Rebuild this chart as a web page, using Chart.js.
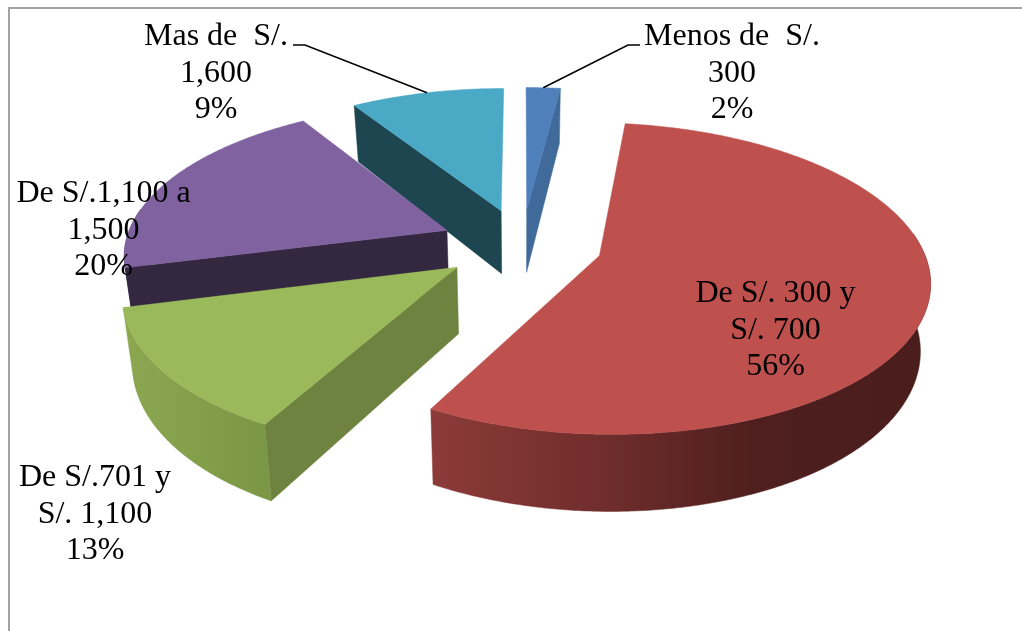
<!DOCTYPE html>
<html>
<head>
<meta charset="utf-8">
<script src="https://cdn.jsdelivr.net/npm/chart.js@4"></script>
<style>html,body{margin:0;padding:0;background:#fff}canvas{display:block}</style>
</head>
<body>
<canvas id="c" width="1022" height="631"></canvas>
<script>
const categories = ['Menos de  S/. 300', 'De S/. 300 y S/. 700', 'De S/.701 y S/. 1,100', 'De S/.1,100 a 1,500', 'Mas de  S/. 1,600'];
const values = [2, 56, 13, 20, 9];
const percentLabels = ['2%', '56%', '13%', '20%', '9%'];
const labelLines = [['Menos de  S/.', '300'], ['De S/. 300 y', 'S/. 700'], ['De S/.701 y', 'S/. 1,100'], ['De S/.1,100 a', '1,500'], ['Mas de  S/.', '1,600']];
const explode = [0.24, 0.25, 0.25, 0.254, 0.24];

const topColors = ['#4F80BC', '#BE504E', '#9AB95A', '#8062A0', '#4AA9C4'];
const flatWallColors = ['#3F6A9A', '#7a3432', '#6F8340', '#332840', '#1E4650'];
const outerWallStops = [
  [[0, '#3F6A9A'], [1, '#3F6A9A']],
  [[0, '#8C3B39'], [0.35, '#6F2D2B'], [0.65, '#4E1F1E'], [1, '#4A1D1D']],
  [[0, '#8CA750'], [1, '#7A9746']],
  [[0, '#332840'], [1, '#332840']],
  [[0, '#1E4650'], [1, '#1E4650']]
];
const paintOrder = [0, 4, 3, 2, 1];
const labelAnchors = [[732, 45], [775.5, 302], [95, 486], [103.5, 202], [216, 45]];
const leaderElbows = [[[640, 45], [628, 45]], null, null, null, [[293, 45], [305, 45]]];
const view = { cx: 522, cy: 244, sx: 322, sy: 149, persp: 0.1455, depth: 65, taper: 0.025 };

function project(u, v, z) {
  const w = 1 / (1 - view.persp * v);
  const t = 1 - view.taper * z;
  return [view.cx + u * view.sx * w * t, view.cy + (v * view.sy + z * view.depth) * w];
}
function slicePoint(arc, i, angle, r, z) {
  const mid = (arc.startAngle + arc.endAngle) / 2;
  const u = r * Math.cos(angle) + explode[i] * Math.cos(mid);
  const v = r * Math.sin(angle) + explode[i] * Math.sin(mid);
  return project(u, v, z);
}
function poly(ctx, pts, fill) {
  ctx.beginPath();
  pts.forEach((p, k) => k ? ctx.lineTo(p[0], p[1]) : ctx.moveTo(p[0], p[1]));
  ctx.closePath();
  ctx.fillStyle = fill;
  ctx.fill();
  ctx.strokeStyle = fill;
  ctx.lineWidth = 0.5;
  ctx.stroke();
}
function arcSamples(arc) {
  const n = Math.max(6, Math.ceil((arc.endAngle - arc.startAngle) * 120));
  const out = [];
  for (let k = 0; k <= n; k++) out.push(arc.startAngle + (arc.endAngle - arc.startAngle) * k / n);
  return out;
}
// a radial cut shows only when going straight down from its top edge leaves the slice
function cutVisible(arc, i, angle) {
  const a = slicePoint(arc, i, 0, 0, 0);
  const b = slicePoint(arc, i, angle, 1, 0);
  const m = slicePoint(arc, i, (arc.startAngle + arc.endAngle) / 2, 1, 0);
  const ex = b[0] - a[0], ey = b[1] - a[1];
  if (Math.abs(ex) < 6) return false;
  const side = ex * (m[1] - a[1]) - ey * (m[0] - a[0]);
  return ex * side < 0;
}

const pie3d = {
  id: 'pie3d',
  beforeDatasetDraw(chart, args) {
    const ctx = chart.ctx;
    const arcs = chart.getDatasetMeta(args.index).data;
    ctx.save();
    paintOrder.forEach(i => {
      const arc = arcs[i];
      const apex0 = slicePoint(arc, i, 0, 0, 0), apex1 = slicePoint(arc, i, 0, 0, 1);
      [arc.startAngle, arc.endAngle].forEach(a => {
        if (cutVisible(arc, i, a)) {
          poly(ctx, [apex0, slicePoint(arc, i, a, 1, 0), slicePoint(arc, i, a, 1, 1), apex1], flatWallColors[i]);
        }
      });
      const angles = arcSamples(arc);
      const upper = angles.map(a => slicePoint(arc, i, a, 1, 0));
      const front = angles.filter(a => Math.sin(a) > -0.15);
      if (front.length > 1) {
        const up = front.map(a => slicePoint(arc, i, a, 1, 0));
        const low = front.map(a => slicePoint(arc, i, a, 1, 1));
        const xs = up.map(p => p[0]);
        const g = ctx.createLinearGradient(Math.min(...xs), 0, Math.max(...xs), 0);
        outerWallStops[i].forEach(s => g.addColorStop(s[0], s[1]));
        poly(ctx, up.concat(low.slice().reverse()), g);
      }
      poly(ctx, [apex0].concat(upper), topColors[i]);
    });
    ctx.restore();
    return false;
  },
  afterDraw(chart) {
    const ctx = chart.ctx;
    const arcs = chart.getDatasetMeta(0).data;
    ctx.save();
    ctx.strokeStyle = '#A3A3A3';
    ctx.lineWidth = 2;
    ctx.beginPath();
    ctx.moveTo(9, 631); ctx.lineTo(9, 8); ctx.lineTo(1022, 8);
    ctx.stroke();

    ctx.strokeStyle = '#000';
    ctx.lineWidth = 1.6;
    leaderElbows.forEach((e, i) => {
      if (!e) return;
      const mid = (arcs[i].startAngle + arcs[i].endAngle) / 2;
      const end = slicePoint(arcs[i], i, mid, 1, 0);
      ctx.beginPath();
      ctx.moveTo(e[0][0], e[0][1]); ctx.lineTo(e[1][0], e[1][1]); ctx.lineTo(end[0], end[1]);
      ctx.stroke();
    });

    ctx.fillStyle = '#000';
    ctx.font = '32px "Liberation Serif"';
    ctx.textAlign = 'center';
    ctx.textBaseline = 'alphabetic';
    labelLines.forEach((lines, i) => {
      lines.concat([percentLabels[i]]).forEach((t, k) => {
        ctx.fillText(t, labelAnchors[i][0], labelAnchors[i][1] + k * 36.6);
      });
    });
    ctx.restore();
  }
};

new Chart(document.getElementById('c'), {
  type: 'pie',
  data: { labels: categories, datasets: [{ data: values, backgroundColor: topColors, borderWidth: 0 }] },
  options: {
    responsive: false,
    animation: false,
    rotation: 0,
    layout: { padding: 0 },
    plugins: { legend: { display: false }, tooltip: { enabled: false } }
  },
  plugins: [pie3d]
});
</script>
</body>
</html>
